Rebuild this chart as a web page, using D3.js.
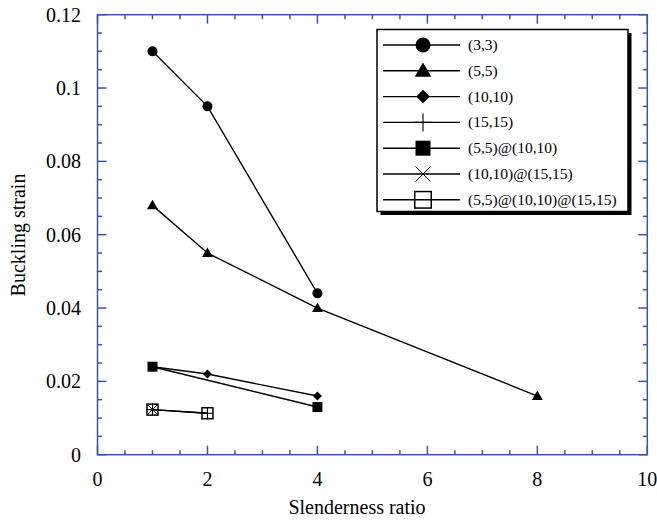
<!DOCTYPE html>
<html>
<head>
<meta charset="utf-8">
<script src="https://cdn.jsdelivr.net/npm/d3@7"></script>
<style>
  body { margin: 0; background: #fff; }
  text { font-family: "Liberation Serif", "Times New Roman", serif; fill: #000; }
</style>
</head>
<body>
<svg id="chart" width="657" height="521"></svg>
<script>
// series names, in legend order
const seriesNames = ["(3,3)", "(5,5)", "(10,10)", "(15,15)", "(5,5)@(10,10)", "(10,10)@(15,15)", "(5,5)@(10,10)@(15,15)"];
const seriesShapes = ["circle", "triangle", "diamond", "plus", "square", "cross", "openSquare"];

// slenderness ratio / buckling strain per series
const xs33 = [1, 2, 4];
const ys33 = [0.110, 0.095, 0.044];
const xs55 = [1, 2, 4, 8];
const ys55 = [0.068, 0.055, 0.040, 0.016];
const xs1010 = [1, 2, 4];
const ys1010 = [0.024, 0.022, 0.016];
const xs1515 = [1, 2];
const ys1515 = [0.0123, 0.0113];
const xsDW1 = [1, 4];
const ysDW1 = [0.024, 0.013];
const xsDW2 = [1];
const ysDW2 = [0.0123];
const xsTW = [1, 2];
const ysTW = [0.0123, 0.0113];

const xTicks = [0, 2, 4, 6, 8, 10];
const yTicks = [0, 0.02, 0.04, 0.06, 0.08, 0.1, 0.12];

const seriesX = [xs33, xs55, xs1010, xs1515, xsDW1, xsDW2, xsTW];
const seriesY = [ys33, ys55, ys1010, ys1515, ysDW1, ysDW2, ysTW];

const svg = d3.select("#chart");
const mLeft = 97.5, mRight = 647.3, mTop = 14.7, mBottom = 454.7;
const axisColor = "#3a56a8";

const x = d3.scaleLinear().domain([0, 10]).range([mLeft, mRight]);
const y = d3.scaleLinear().domain([0, 0.12]).range([mBottom, mTop]);

// frame with inward ticks on all four sides
const minorX = d3.range(0, 10.001, 0.5);
const minorY = d3.range(0, 0.12001, 0.005);

const frame = svg.append("g").attr("stroke", axisColor).attr("stroke-width", 1.5);
frame.append("rect")
    .attr("x", mLeft).attr("y", mTop)
    .attr("width", mRight - mLeft).attr("height", mBottom - mTop)
    .attr("fill", "none");

const isMajorX = d => Math.abs(d % 2) < 1e-6;
frame.selectAll(".xt")
    .data(minorX)
    .join("line")
    .attr("x1", d => x(d)).attr("x2", d => x(d))
    .attr("y1", mBottom).attr("y2", d => mBottom - (isMajorX(d) ? 9 : 4.5));
frame.selectAll(".xtt")
    .data(minorX)
    .join("line")
    .attr("x1", d => x(d)).attr("x2", d => x(d))
    .attr("y1", mTop).attr("y2", d => mTop + (isMajorX(d) ? 9 : 4.5));

const isMajorY = d => Math.abs(Math.round(d * 50) - d * 50) < 1e-6;
frame.selectAll(".yt")
    .data(minorY)
    .join("line")
    .attr("y1", d => y(d)).attr("y2", d => y(d))
    .attr("x1", mLeft).attr("x2", d => mLeft + (isMajorY(d) ? 9 : 4.5));
frame.selectAll(".ytr")
    .data(minorY)
    .join("line")
    .attr("y1", d => y(d)).attr("y2", d => y(d))
    .attr("x1", mRight).attr("x2", d => mRight - (isMajorY(d) ? 9 : 4.5));

// tick labels
svg.append("g").selectAll("text")
    .data(xTicks)
    .join("text")
    .attr("x", d => x(d)).attr("y", 486)
    .attr("text-anchor", "middle")
    .style("font-size", "20px")
    .text(d => d);
svg.append("g").selectAll("text")
    .data(yTicks)
    .join("text")
    .attr("x", 81).attr("y", d => y(d) + 7)
    .attr("text-anchor", "end")
    .style("font-size", "20px")
    .text(d => d);

svg.append("text")
    .attr("x", 357).attr("y", 514)
    .attr("text-anchor", "middle")
    .style("font-size", "20px")
    .text("Slenderness ratio");
svg.append("text")
    .attr("transform", "translate(25,235) rotate(-90)")
    .attr("text-anchor", "middle")
    .style("font-size", "20px")
    .text("Buckling strain");

// marker drawing
function drawMarker(g, shape, s) {
    const k = s / 10;
    if (shape === "circle") {
        g.append("circle").attr("r", 5 * k).attr("fill", "#000");
    } else if (shape === "triangle") {
        g.append("path").attr("d", `M0,${-5.5 * k}L${5.5 * k},${4 * k}L${-5.5 * k},${4 * k}Z`).attr("fill", "#000");
    } else if (shape === "diamond") {
        g.append("path").attr("d", `M0,${-4.5 * k}L${4.5 * k},0L0,${4.5 * k}L${-4.5 * k},0Z`).attr("fill", "#000");
    } else if (shape === "plus") {
        g.append("path").attr("d", `M0,${-6 * k}V${6 * k}M${-6 * k},0H${6 * k}`).attr("stroke", "#000").attr("stroke-width", 1.1);
    } else if (shape === "square") {
        g.append("rect").attr("x", -5 * k).attr("y", -5 * k).attr("width", 10 * k).attr("height", 10 * k).attr("fill", "#000");
    } else if (shape === "cross") {
        g.append("path").attr("d", `M${-5 * k},${-5 * k}L${5 * k},${5 * k}M${-5 * k},${5 * k}L${5 * k},${-5 * k}`).attr("stroke", "#000").attr("stroke-width", 1);
    } else if (shape === "openSquare") {
        g.append("rect").attr("x", -5.5 * k).attr("y", -5.5 * k).attr("width", 11 * k).attr("height", 11 * k)
            .attr("fill", "none").attr("stroke", "#000").attr("stroke-width", 1.5);
    }
}

const line = d3.line().x(d => x(d[0])).y(d => y(d[1]));

seriesNames.forEach((name, i) => {
    const pts = d3.zip(seriesX[i], seriesY[i]);
    const g = svg.append("g");
    g.append("path")
        .datum(pts)
        .attr("d", line)
        .attr("fill", "none")
        .attr("stroke", "#000")
        .attr("stroke-width", 1.4);
    g.selectAll(".m")
        .data(pts)
        .join("g")
        .attr("transform", d => `translate(${x(d[0])},${y(d[1])})`)
        .each(function () { drawMarker(d3.select(this), seriesShapes[i], 10); });
});

// legend with drop shadow
const lg = svg.append("g");
const lx = 377, ly = 29.5, lw = 251, lh = 182;
lg.append("rect").attr("x", lx + 3.5).attr("y", ly + 3.5).attr("width", lw).attr("height", lh).attr("fill", "#000");
lg.append("rect").attr("x", lx).attr("y", ly).attr("width", lw).attr("height", lh)
    .attr("fill", "#fff").attr("stroke", "#000").attr("stroke-width", 1.5);

seriesNames.forEach((name, i) => {
    const ry = 45 + i * 25.8;
    lg.append("line").attr("x1", 383).attr("x2", 460).attr("y1", ry).attr("y2", ry)
        .attr("stroke", "#000").attr("stroke-width", 1.4);
    const m = lg.append("g").attr("transform", `translate(423,${ry})`);
    drawMarker(m, seriesShapes[i], 15);
    lg.append("text").attr("x", 468).attr("y", ry + 5)
        .style("font-size", "15.5px")
        .text(name);
});
</script>
</body>
</html>
